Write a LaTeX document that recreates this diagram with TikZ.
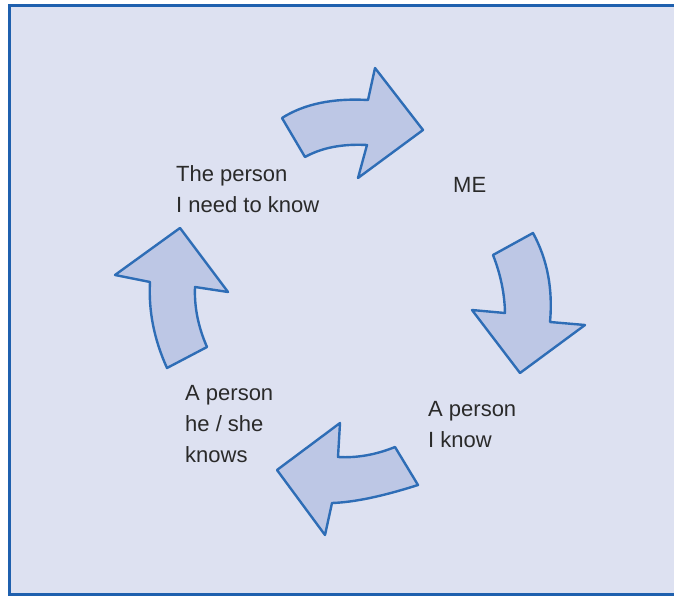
\documentclass[tikz,border=0pt]{standalone}
\usepackage{fontspec}
\setmainfont{Liberation Sans}
\definecolor{bgc}{HTML}{DDE1F1}
\definecolor{framec}{HTML}{1F60AE}
\definecolor{arrowline}{HTML}{2E6DB6}
\definecolor{arrowfill}{HTML}{BDC7E5}
\definecolor{txtc}{HTML}{2A2A2A}
\tikzset{
  cyclearrow/.style={draw=arrowline, fill=arrowfill, line width=2.4pt, line join=round},
  lbl/.style={text=txtc, font=\fontsize{22}{31}\selectfont, align=left, inner sep=0pt, anchor=base west}
}
\begin{document}
\begin{tikzpicture}[x=1pt,y=-1pt]
\useasboundingbox (0,0) rectangle (674,596);
\fill[white] (0,0) rectangle (674,596);
\fill[bgc] (9.5,5.5) rectangle (674,594);
\draw[framec, line width=3pt] (674,5.5) -- (9.5,5.5) -- (9.5,594) -- (674,594);
% arrow top (right)
\path[cyclearrow] (282,118) .. controls (304,104) and (332.6,98) .. (368,100) -- (375,68) -- (423,130) -- (358,178) -- (367,145) .. controls (342.3,143.7) and (321.7,147.7) .. (305,157) -- cycle;
% arrow right (down)
\path[cyclearrow] (493,255) -- (533,233) .. controls (547.4,259.4) and (553,289) .. (550,322) -- (585,325) -- (520,373) -- (472,310) -- (505,313) .. controls (504.6,293.7) and (500.6,274.3) .. (493,255) -- cycle;
% arrow bottom (left)
\path[cyclearrow] (395,447) -- (418,485) .. controls (382.6,496.3) and (354,502.3) .. (332,503) -- (325,535) -- (277,470) -- (340,423) -- (338,457) .. controls (357,458.1) and (376,454.7) .. (395,447) -- cycle;
% arrow left (up)
\path[cyclearrow] (207,347) -- (167,368) .. controls (154,339.3) and (148.4,310.7) .. (150,282) -- (115,275) -- (180,228) -- (228,292) -- (195,287) .. controls (194.2,307) and (198.2,327) .. (207,347) -- cycle;
% labels (anchored at the baseline of the last line)
\node[lbl] (need) at (176,212) {The person\\I need to know};
\node[lbl] (me) at (453,193) {ME};
\node[lbl] (know) at (428,447) {A person\\I know};
\node[lbl] (knows) at (185,462) {A person\\he / she\\knows};
\end{tikzpicture}
\end{document}
